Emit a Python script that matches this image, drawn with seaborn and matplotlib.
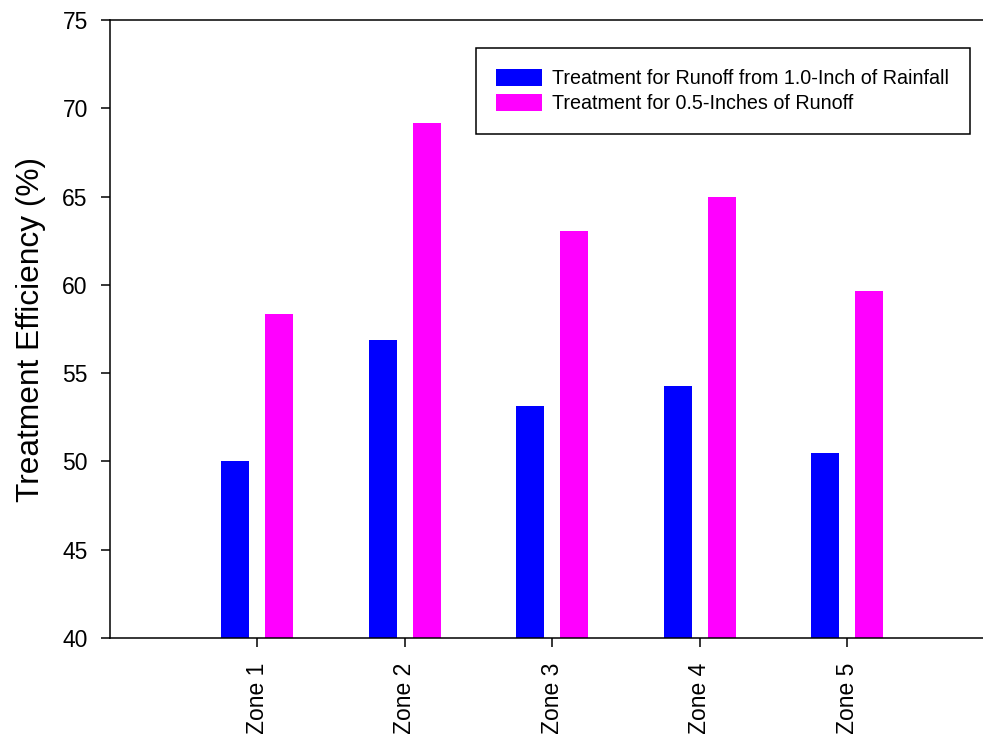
import matplotlib
matplotlib.use("Agg")
import matplotlib.pyplot as plt
import seaborn as sns
import pandas as pd

zones = ["Zone 1", "Zone 2", "Zone 3", "Zone 4", "Zone 5"]
rain_1in = [50.05, 56.85, 53.15, 54.25, 50.45]
runoff_05in = [58.35, 69.15, 63.05, 65.0, 59.65]
series_names = ["Treatment for Runoff from 1.0-Inch of Rainfall",
                "Treatment for 0.5-Inches of Runoff"]
colors = ["#0000FF", "#FF00FF"]
yticks = [40, 45, 50, 55, 60, 65, 70, 75]

df = pd.DataFrame({
    "zone": zones * 2,
    "value": rain_1in + runoff_05in,
    "series": [series_names[0]] * len(zones) + [series_names[1]] * len(zones),
})

sns.set_style("ticks")
plt.rcParams["font.family"] = ["Liberation Sans", "DejaVu Sans"]
plt.rcParams["text.color"] = "black"
plt.rcParams["axes.labelcolor"] = "black"
plt.rcParams["xtick.color"] = "black"
plt.rcParams["ytick.color"] = "black"

fig = plt.figure(figsize=(9.83, 7.34), dpi=100)
W, H = 983, 734
left_px, top_px, bottom_px = 110, 20, 638
unit_px = 147.4
right_px = left_px + 6 * unit_px
ax = fig.add_axes([left_px / W, 1 - bottom_px / H, (right_px - left_px) / W, (bottom_px - top_px) / H])

sns.barplot(data=df, x="zone", y="value", hue="series", palette=colors,
            width=0.597, gap=0.364, saturation=1, ax=ax, legend=True,
            edgecolor="none", linewidth=0)

ax.set_xlim(-1, 5)
ax.set_ylim(40, 75)
ax.set_yticks(yticks)
ax.set_yticklabels([str(t) for t in yticks], fontsize=16.5, color="black")
ax.set_xticks(range(len(zones)))
ax.set_xticklabels(zones, rotation=90, fontsize=16.5, color="black")
ax.set_xlabel("")
ax.set_ylabel("Treatment Efficiency (%)", fontsize=22.8, labelpad=12, color="black")
ax.tick_params(axis="both", direction="out", length=6.5, width=1.1, color="black")
ax.tick_params(axis="y", pad=9.5)
ax.tick_params(axis="x", pad=11.5)

for s in ["left", "bottom", "top"]:
    ax.spines[s].set_visible(True)
    ax.spines[s].set_linewidth(1.1)
    ax.spines[s].set_color("black")
ax.spines["right"].set_visible(False)

handles, labels = ax.get_legend_handles_labels()
ax.legend_.remove()
leg = fig.legend(handles, labels, loc="upper right",
                 bbox_to_anchor=(970 / W, 1 - 48 / H), bbox_transform=fig.transFigure,
                 fontsize=14.2, frameon=True, fancybox=False, framealpha=1,
                 edgecolor="black", handlelength=2.33, handleheight=0.96,
                 handletextpad=0.5, labelspacing=0.3, borderpad=1.05,
                 borderaxespad=0)
leg.get_frame().set_linewidth(1.1)
for t in leg.get_texts():
    t.set_color("black")

fig.savefig("out.png", dpi=100)
